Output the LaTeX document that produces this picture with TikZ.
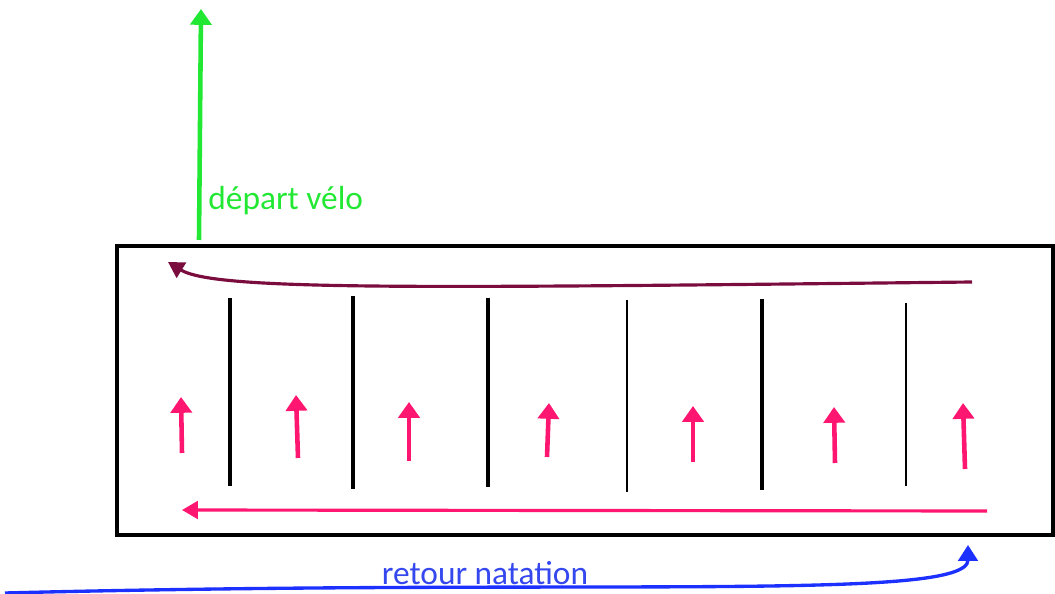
\documentclass[tikz,border=0pt]{standalone}
\usepackage{fontspec}
\setmainfont{Carlito}
\usepackage{tikz}
\usetikzlibrary{positioning}
\usetikzlibrary{arrows.meta}

\definecolor{velo}{RGB}{34,232,52}
\definecolor{bordeaux}{RGB}{122,12,62}
\definecolor{rose}{RGB}{255,22,112}
\definecolor{bleu}{RGB}{28,48,255}
\definecolor{bleutexte}{RGB}{52,72,238}

\tikzset{
    bassin/.style={draw=black, line width=2.2pt},
    ligne/.style={draw=black, line width=1.8pt},
    lignefine/.style={draw=black, line width=1.1pt},
    nage/.style={draw=rose, line width=2.6pt, -{Triangle[width=12pt,length=9pt]}},
    retour/.style={draw=rose, line width=1.8pt, -{Triangle[width=10pt,length=9pt]}},
    legende/.style={inner sep=0pt, font=\fontsize{19}{21}\selectfont},
}

\begin{document}
\begin{tikzpicture}[x=0.02cm, y=-0.02cm]
    \useasboundingbox (0,0) rectangle (1055,594);

    \draw [bassin] (117,246) rectangle (1053,535);

    % lignes d'eau
    \foreach \x/\t/\b/\s in {230/298/486/ligne, 353/296/489/ligne, 488/298/487/ligne, 627/300/492/lignefine, 762/299/490/ligne, 906/303/486/lignefine}
        \draw [\s] (\x,\t) -- (\x,\b);

    % sens de nage dans chaque couloir
    \foreach \n/\xa/\ya/\xb/\yb in {1/182/453/181/397, 2/298/458/296/395, 3/409/461/409/402, 4/547/457/549/403, 5/693/462/693/406, 6/835/463/834/407, 7/965/469/963/403}
    {
        \coordinate (debut\n) at (\xa,\ya);
        \coordinate (fin\n) at (\xb,\yb);
        \draw [nage] (debut\n) -- (fin\n);
    }

    \coordinate (basD) at (987,511);
    \coordinate (basG) at (182,510);
    \draw [retour] (basD) -- (basG);

    \coordinate (hautD) at (972,282);
    \coordinate (hautG) at (168,262);
    \draw [draw=bordeaux, line width=1.8pt, -{Triangle[width=10pt,length=9pt]}] (hautD) .. controls (420,288) and (215,291) .. (hautG);

    % sortie vers le vélo
    \coordinate (sortie) at (199,240);
    \coordinate (velo) at (201,9);
    \draw [draw=velo, line width=2.6pt, -{Triangle[width=12pt,length=9pt]}] (sortie) -- (velo);
    \node [legende, text=velo, anchor=west] (depart) at (208,201) {départ vélo};

    % retour de la natation
    \coordinate (arrivee) at (5,593);
    \coordinate (entree) at (968,545);
    \draw [draw=bleu, line width=1.9pt, -{Triangle[width=11pt,length=9pt]}] (arrivee) .. controls (600,578) and (968,602) .. (entree);
    \node [legende, text=bleutexte] (natation) at (485,573) {retour natation};
\end{tikzpicture}
\end{document}
